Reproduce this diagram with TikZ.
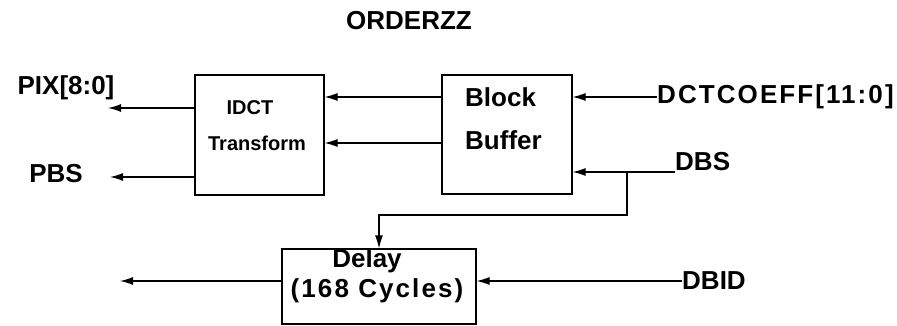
\documentclass[tikz,border=0pt]{standalone}
\usepackage{fontspec}
\setmainfont{Liberation Sans}
\usetikzlibrary{arrows.meta,positioning}
\tikzset{
  blk/.style={draw, line width=1.2pt, inner sep=0pt},
  lbl/.style={font=\fontsize{26}{30}\selectfont\bfseries, inner sep=0pt},
  lblwide/.style={lbl, font=\fontsize{26}{30}\selectfont\bfseries\addfontfeatures{LetterSpace=8}},
  lblsmall/.style={font=\fontsize{20}{24}\selectfont\bfseries, inner sep=0pt},
  sig/.style={line width=1.2pt, -{Latex[length=13pt,width=8pt]}}
}
\begin{document}
\begin{tikzpicture}[x=1pt, y=-1pt]
  \useasboundingbox (0,0) rectangle (897,326);
  % title
  \node[lbl] (title) at (409,21) {ORDERZZ};
  % blocks
  \node[blk, minimum width=129pt, minimum height=120pt] (idct) at (259.5,135) {};
  \node[blk, minimum width=130pt, minimum height=119pt] (buf) at (507,134.5) {};
  \node[blk, minimum width=194pt, minimum height=75pt] (delay) at (379,286.5) {};
  \node[lblsmall] (idcttxt) at (250,108) {IDCT};
  \node[lblsmall] (transtxt) at (257,143) {Transform};
  \node[lbl, anchor=west] (blocktxt) at (465,97) {Block};
  \node[lbl, anchor=west] (buffertxt) at (465,140) {Buffer};
  \node[lbl] (delaytxt) at (367,261) {Delay};
  \node[lblwide] (cyctxt) at (377,291) {(168 Cycles)};
  % signals
  \node[lbl] (pix) at (66,88) {PIX[8:0]};
  \node[lbl] (pbs) at (56,174) {PBS};
  \node[lblwide, anchor=west] (dct) at (657,97) {DCTCOEFF[11:0]};
  \node[lbl, anchor=west] (dbs) at (675,162) {DBS};
  \node[lbl, anchor=west] (dbid) at (682,281) {DBID};
  \coordinate (pixend) at (108,108);
  \coordinate (pbsend) at (110,177);
  \coordinate (dlyend) at (120,281);
  \coordinate (dbsin) at (675,172);
  \coordinate (split) at (627,172);
  \coordinate (bend) at (627,215);
  % connectors
  \draw[sig] (buf.west |- 0,97) -- (idct.east |- 0,97);
  \draw[sig] (buf.west |- 0,143) -- (idct.east |- 0,143);
  \draw[sig] (idct.west |- pixend) -- (pixend);
  \draw[sig] (idct.west |- pbsend) -- (pbsend);
  \draw[sig] (dct.west) -- (buf.east |- dct.west);
  \draw[sig] (dbsin) -- (buf.east |- dbsin);
  \draw[sig] (split) -- (bend) -| (delay.north);
  \draw[sig] (dbid.west) -- (delay.east |- dbid.west);
  \draw[sig] (delay.west |- dlyend) -- (dlyend);
\end{tikzpicture}
\end{document}
